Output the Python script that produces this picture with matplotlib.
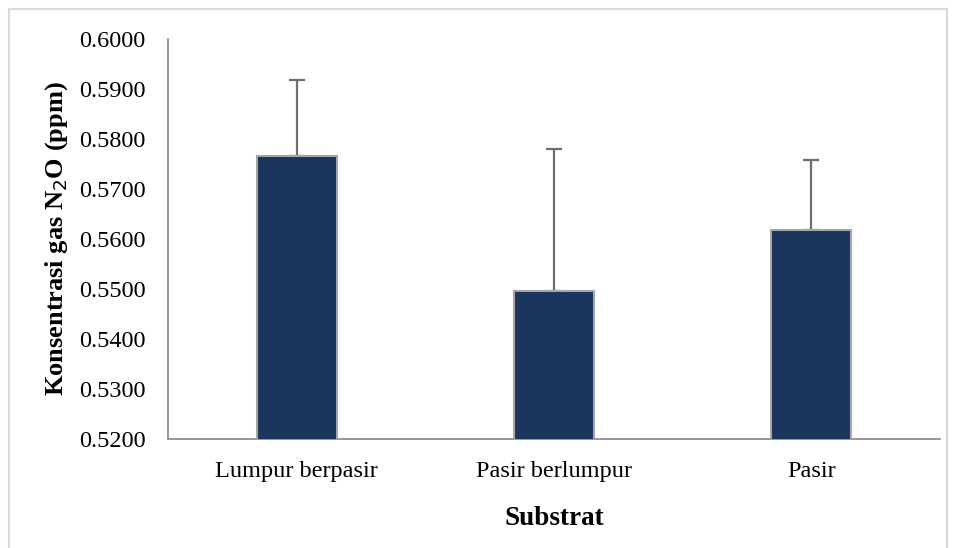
import numpy as np
import matplotlib
matplotlib.use("Agg")
import matplotlib.pyplot as plt
from matplotlib.patches import Rectangle

categories = ["Lumpur berpasir", "Pasir berlumpur", "Pasir"]
means = [0.5765, 0.5495, 0.5618]
errors = [0.0152, 0.0284, 0.0139]
yticks = [0.52, 0.53, 0.54, 0.55, 0.56, 0.57, 0.58, 0.59, 0.60]

plt.rcParams["font.family"] = ["Liberation Serif", "DejaVu Serif"]

fig = plt.figure(figsize=(9.55, 5.48), dpi=100)
ax = fig.add_axes([0.176, 0.199, 0.808, 0.730])

x = np.arange(len(categories))
ax.bar(x, means, width=0.31, color="#1a365c", edgecolor="#a6a6a6", linewidth=1.5, zorder=3)
# one-sided error bars; the lower cap hides under the bar
ax.errorbar(x, means, yerr=[np.zeros(len(errors)), errors], fmt="none",
            ecolor="#6e6e6e", elinewidth=1.6, capsize=6, capthick=1.6, zorder=2)

ax.set_xlim(-0.5, 2.5)
ax.set_ylim(0.52, 0.60)
ax.set_yticks(yticks)
ax.set_yticklabels([f"{v:.4f}" for v in yticks])
ax.set_xticks(x)
ax.set_xticklabels(categories)
ax.tick_params(axis="both", length=0, labelsize=17.5, colors="black")
ax.tick_params(axis="y", pad=16)
ax.tick_params(axis="x", pad=16)

for s in ["top", "right"]:
    ax.spines[s].set_visible(False)
for s in ["left", "bottom"]:
    ax.spines[s].set_color("#868686")
    ax.spines[s].set_linewidth(1.2)

ax.set_xlabel("Substrat", fontsize=19.5, fontweight="bold", labelpad=17)
ax.set_ylabel("Konsentrasi gas N$_2$O (ppm)", fontsize=19, fontweight="bold", labelpad=7)

# light frame around the chart area
fig.patches.append(Rectangle((9 / 955, -0.05), 938 / 955, 1 - 9 / 548 + 0.05,
                             transform=fig.transFigure, fill=False,
                             edgecolor="#d9d9d9", linewidth=1.5))

fig.savefig("out.png", dpi=100)
